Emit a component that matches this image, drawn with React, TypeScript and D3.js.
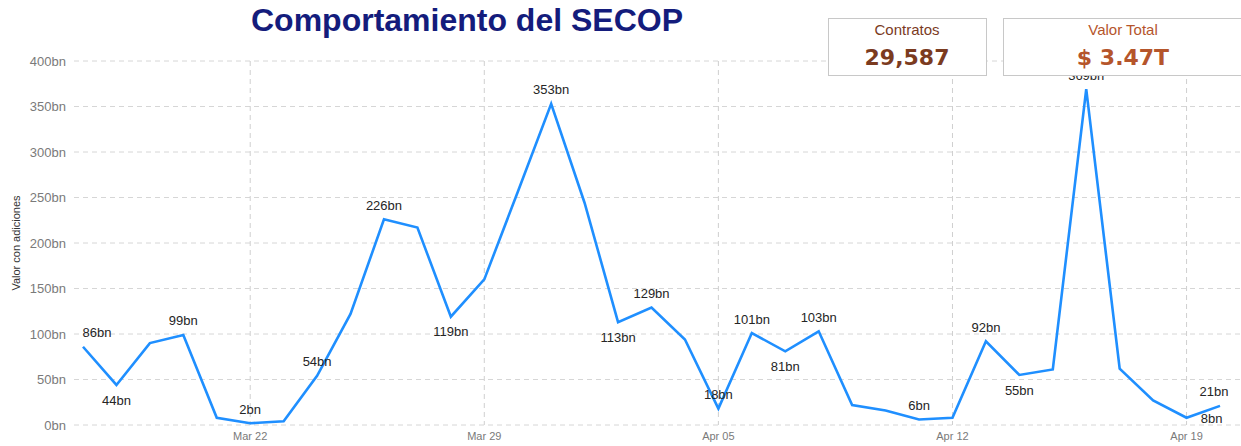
/**
 * Comportamiento del SECOP
 * Daily contract value line chart with KPI cards
 */

import { useEffect, useRef } from 'react';
import * as d3 from 'd3';

// Daily series, Mar 17 – Apr 20 2020 (values in bn)
const startDate = new Date(2020, 2, 17);
const values = [
    86, 44, 90, 99, 8, 2, 4, 54, 122, 226, 217, 119, 160, 256, 353,
    244, 113, 129, 94, 18, 101, 81, 103, 22, 16, 6, 8, 92, 55, 61,
    369, 62, 27, 8, 21
];

// Which points carry a data label, and where it sits
const labelIndex = [0, 1, 3, 5, 7, 9, 11, 14, 16, 17, 19, 20, 21, 22, 25, 27, 28, 30, 33, 34];
const labelSide = ['up', 'down', 'up', 'up', 'up', 'up', 'down', 'up', 'down', 'up', 'up', 'up', 'down', 'up', 'up', 'up', 'down', 'up', 'side', 'up'];
const labelShift = [14, 0, 0, 0, 0, 0, 0, 0, 0, 0, 0, 0, 0, 0, 0, 0, 0, 0, 25, -6];

const yTicks = [0, 50, 100, 150, 200, 250, 300, 350, 400];

const kpiTitles = ['Contratos', 'Valor Total'];
const kpiValues = ['29,587', '$ 3.47T'];

export default function App() {
    const svgRef = useRef<SVGSVGElement>(null);

    useEffect(() => {
        if (!svgRef.current) return;
        const svg = d3.select(svgRef.current);
        svg.selectAll('*').remove();

        const width = 1241;
        const font = 'Arial, "Liberation Sans", sans-serif';

        const data = values.map((v, i) => ({ date: d3.timeDay.offset(startDate, i), value: v }));

        const x = d3.scaleTime()
            .domain([data[0].date, data[data.length - 1].date])
            .range([83, 1220]);
        const y = d3.scaleLinear().domain([0, 400]).range([425, 61]);

        // Horizontal grid + y labels
        const yg = svg.append('g');
        yg.selectAll('line')
            .data(yTicks)
            .enter()
            .append('line')
            .attr('x1', 74)
            .attr('x2', width)
            .attr('y1', d => y(d))
            .attr('y2', d => y(d))
            .attr('stroke', '#d6d6d6')
            .attr('stroke-width', 1)
            .attr('stroke-dasharray', '5,4');
        yg.selectAll('text')
            .data(yTicks)
            .enter()
            .append('text')
            .attr('x', 66)
            .attr('y', d => y(d))
            .attr('dy', '0.35em')
            .attr('text-anchor', 'end')
            .attr('fill', '#7a7a7a')
            .attr('font-family', font)
            .attr('font-size', '13px')
            .text(d => `${d}bn`);

        // Vertical weekly grid + x labels
        const weeks = x.ticks(d3.timeWeek.every(1)!);
        const xg = svg.append('g');
        xg.selectAll('line')
            .data(weeks)
            .enter()
            .append('line')
            .attr('x1', d => x(d))
            .attr('x2', d => x(d))
            .attr('y1', 61)
            .attr('y2', 425)
            .attr('stroke', '#cfcfcf')
            .attr('stroke-width', 1)
            .attr('stroke-dasharray', '5,4');
        xg.selectAll('text')
            .data(weeks)
            .enter()
            .append('text')
            .attr('x', d => x(d))
            .attr('y', 440)
            .attr('text-anchor', 'middle')
            .attr('fill', '#7a7a7a')
            .attr('font-family', font)
            .attr('font-size', '11px')
            .text(d => d3.timeFormat('%b %d')(d));

        // Y axis title
        svg.append('text')
            .attr('transform', `translate(20,${y(200)}) rotate(-90)`)
            .attr('text-anchor', 'middle')
            .attr('fill', '#333')
            .attr('font-family', font)
            .attr('font-size', '11px')
            .text('Valor con adiciones');

        // Line
        const line = d3.line<{ date: Date; value: number }>()
            .x(d => x(d.date))
            .y(d => y(d.value));
        svg.append('path')
            .datum(data)
            .attr('d', line)
            .attr('fill', 'none')
            .attr('stroke', '#1f8fff')
            .attr('stroke-width', 2.6)
            .attr('stroke-linejoin', 'miter');

        // Data labels
        const offset = (side: string) => side === 'up' ? -14 : side === 'down' ? 15 : 1;
        svg.append('g')
            .selectAll('text')
            .data(labelIndex)
            .enter()
            .append('text')
            .attr('x', (d, i) => x(data[d].date) + labelShift[i])
            .attr('y', (d, i) => y(data[d].value) + offset(labelSide[i]))
            .attr('dy', '0.35em')
            .attr('text-anchor', 'middle')
            .attr('fill', '#252525')
            .attr('font-family', font)
            .attr('font-size', '13px')
            .text(d => `${data[d].value}bn`);

        // Title
        svg.append('text')
            .attr('x', 467)
            .attr('y', 31)
            .attr('text-anchor', 'middle')
            .attr('fill', '#141c7c')
            .attr('font-family', font)
            .attr('font-weight', 'bold')
            .attr('font-size', '32px')
            .text('Comportamiento del SECOP');

        // KPI cards
        const cards = [
            { x: 828, w: 158, color: '#7b3b1f' },
            { x: 1003, w: 250, color: '#b5552b' }
        ];
        cards.forEach((c, i) => {
            svg.append('rect')
                .attr('x', c.x + 0.5)
                .attr('y', 18.5)
                .attr('width', c.w)
                .attr('height', 57)
                .attr('fill', '#fff')
                .attr('stroke', '#c8c8c8')
                .attr('stroke-width', 1);
            const cx = i === 0 ? c.x + c.w / 2 : 1123;
            svg.append('text')
                .attr('x', cx)
                .attr('y', 35)
                .attr('text-anchor', 'middle')
                .attr('fill', c.color)
                .attr('font-family', font)
                .attr('font-size', '15px')
                .text(kpiTitles[i]);
            svg.append('text')
                .attr('x', cx)
                .attr('y', 65)
                .attr('text-anchor', 'middle')
                .attr('fill', c.color)
                .attr('font-family', '"DejaVu Sans", sans-serif')
                .attr('font-weight', 'bold')
                .attr('font-size', '22px')
                .text(kpiValues[i]);
        });
    }, []);

    return (
        <svg
            ref={svgRef}
            width={1241}
            height={446}
            style={{ position: 'absolute', left: 0, top: 0, display: 'block', background: '#fff' }}
        />
    );
}
